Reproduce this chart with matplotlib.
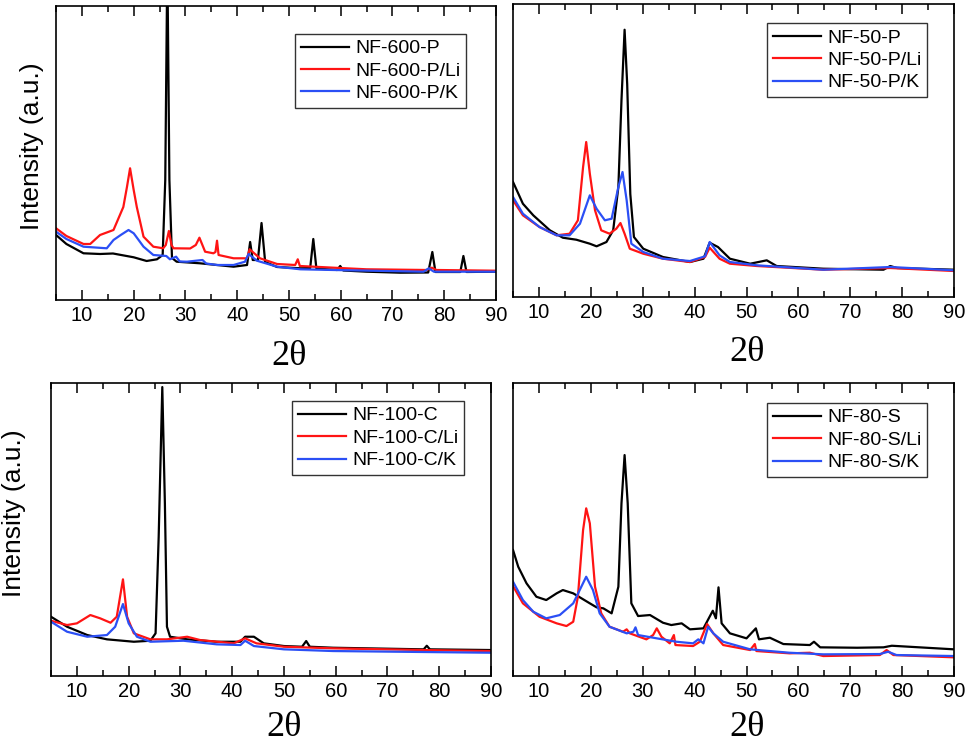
import numpy as np
import matplotlib
matplotlib.use("Agg")
from matplotlib import pyplot as plt
from matplotlib.ticker import MultipleLocator

# --- NF-600 series (intensity in arbitrary units) ---
x600_p = [5, 7, 10.3, 13.5, 16, 20, 22.5, 24.5, 25.6, 26.1, 26.5, 26.9, 27.4, 28.3, 32.8, 39.3, 41.9,
          42.5, 43.0, 44.0, 44.7, 45.4, 47.7, 52.2, 54.1, 54.7, 55.3, 59.3, 59.9, 60.5, 65, 71.5, 76.9,
          77.7, 78.3, 83.1, 83.7, 84.3, 90]
y600_p = [65, 56, 46.7, 46, 46.5, 42.7, 39, 40.7, 45, 120, 340, 120, 42, 38.3, 36.7, 33.3, 35,
          58, 40, 40, 77, 38, 33, 31.7, 32, 61, 31.5, 30, 34, 29.5, 28.3, 27.3, 27.5,
          48, 28, 28, 44, 28, 28.3]
x600_li = [5, 7, 10.3, 11.6, 13.5, 16.1, 18.0, 18.7, 19.3, 20.0, 20.6, 21.9, 23.8, 25.7, 26.2, 26.8, 27.3,
           27.7, 30.9, 32.0, 32.7, 33.8, 35.4, 35.8, 36.1, 36.4, 39.3, 41.9, 42.4, 44.4, 47.7, 51.2,
           51.7, 52.1, 58.6, 65, 76.6, 77.6, 78.5, 90]
y600_li = [71.7, 64, 56, 56, 65, 70, 93, 113, 131.7, 110, 93, 63.3, 53.3, 51.7, 55, 69, 55,
           51.7, 51.5, 55, 62.3, 48.3, 46.7, 48, 59.3, 45, 41.7, 41.7, 50.7, 41.7, 36, 35,
           40.7, 34, 32.3, 30.7, 30, 32.3, 30, 29.3]
x600_k = [5, 7, 10.3, 14.8, 16.1, 17.5, 19.0, 20, 21.9, 23.8, 26.3, 27.0, 28.2, 28.9, 30.3, 33.3, 34.0,
          36.1, 39.3, 41.5, 42.2, 43.8, 47.7, 52.2, 58.6, 76, 77, 78, 90]
y600_k = [68.3, 61, 53.3, 51.7, 60, 65, 70, 66.7, 53.3, 45, 44, 40.7, 43.3, 38.5, 38.3, 40, 36.5,
          35, 35, 38.3, 46, 39.3, 33.3, 30.7, 30, 28.3, 31.7, 28.3, 28.3]

# --- NF-50 series ---
x50_p = [5, 6.9, 8.9, 12.1, 14.6, 17.2, 19.8, 21.1, 23, 24.3, 25.3, 25.9, 26.5, 27, 27.6, 28.3, 30.1,
         33.9, 39.1, 41.7, 42.9, 44.5, 46.8, 50.7, 53.9, 55.8, 64.8, 76.4, 77.7, 79, 90]
y50_p = [115, 93.3, 81.7, 66.7, 59.3, 57.3, 53.3, 50.7, 55, 66.7, 110, 196.7, 267.3, 213, 103, 60, 48.3,
         40, 35, 38.3, 54.3, 50, 38.3, 33.3, 36.7, 31, 28.3, 27.3, 31, 29, 27.3]
x50_li = [5, 6.9, 10.1, 13.4, 15.9, 17.5, 18.5, 19.1, 19.8, 20.8, 22, 23.6, 24.9, 25.7, 26.5, 27.5,
          30.1, 33.9, 39.1, 42, 42.9, 44.8, 46.8, 52, 64.8, 77.7, 90]
y50_li = [96.7, 81.7, 70, 61.7, 63.3, 76.7, 130, 155, 123.3, 86.7, 66.7, 63.3, 68.3, 74, 63.3, 48.3,
          43.3, 38.3, 35, 40, 49.3, 38.3, 33.3, 31, 27.3, 29, 26]
x50_k = [5, 6.9, 10.1, 13.4, 15.9, 17.9, 19.8, 21.1, 22.7, 24, 25.3, 26.1, 26.9, 27.8, 30.1, 33.9,
         39.1, 42, 42.9, 44.8, 46.8, 52, 64.8, 77.7, 90]
y50_k = [100, 83.3, 70, 61.7, 61.7, 73.3, 101.7, 88.3, 76.7, 78.3, 110, 125, 96.7, 53.3, 45, 38.3,
         36, 40.7, 55, 41.7, 35, 31.7, 27.3, 30, 26.7]

# --- NF-100 series ---
x100_c = [5, 8.1, 12, 15.8, 21, 24.2, 25.2, 25.8, 26.5, 27, 27.4, 28, 31.3, 37, 41.6, 42.5, 44.2,
          46.1, 50, 53.5, 54.3, 55, 59.5, 77, 77.6, 78.2, 90]
y100_c = [59.3, 49.3, 41, 36.7, 34.3, 35.3, 42.7, 139, 289, 172.7, 49.3, 39.3, 36.7, 34.3, 34.3, 39.3, 39.3,
          32.7, 30, 29.3, 35, 29.3, 28.3, 26.7, 30.3, 26.7, 26]
x100_li = [5, 8.1, 10, 12.6, 14.5, 16.5, 17.7, 18.9, 19.7, 21, 24.2, 27.4, 31.3, 33.8, 40.3, 42.5,
           44.7, 50, 59.5, 77, 90]
y100_li = [55.3, 51, 52.7, 61, 57.7, 53.3, 59.3, 96.7, 59.3, 42.7, 36.7, 36.7, 39.3, 36, 32.7, 37.7,
           32.7, 29.3, 27.7, 26, 25]
x100_k = [5, 8.1, 12, 15.8, 17.4, 18.9, 20, 21.6, 24.2, 30.6, 37, 41.6, 42.5, 44.2, 50, 59.5, 90]
y100_k = [54.3, 44.3, 39.3, 41, 49.3, 72, 52.7, 39.3, 34.3, 35.3, 31.7, 31, 35.3, 30, 26.7, 25, 23.3]

# --- NF-80 series ---
x80_s = [5, 6, 7.6, 9.5, 11.4, 13.4, 14.6, 16.6, 18.2, 19.8, 21.1, 22.4, 24, 25.3, 25.9, 26.5, 27.1,
         27.8, 29.1, 31.4, 33.9, 35.5, 37.5, 39.1, 41.7, 43.5, 44.1, 44.6, 45.2, 46.8, 50, 51.8, 52.4,
         54.5, 57.1, 62.2, 63, 64.2, 71.3, 76.4, 78, 90]
y80_s = [126, 109.3, 92.7, 79.3, 76, 82.7, 86, 82.7, 77.7, 72.7, 68.7, 67.7, 62.7, 89.3, 172.7, 221, 172.7,
         72.7, 60, 61, 53.3, 51, 52.7, 46.7, 47.7, 65.3, 57.7, 88.7, 52.7, 42.7, 37.7, 47.7, 36.7,
         38.3, 32, 31, 34.3, 28.7, 28.3, 28.7, 30.3, 26.7]
x80_li = [5, 6.9, 10.1, 13.4, 15.3, 16.6, 17.5, 18.5, 19.1, 19.8, 20.8, 22, 23.6, 26.2, 26.9, 27.5,
          30.7, 32, 32.7, 33.6, 35.2, 36, 36.3, 39.7, 41, 42.4, 43.6, 45.5, 50.7, 51.6, 51.9, 58.3,
          62.2, 64.8, 75.7, 77, 78.3, 90]
y80_li = [90, 72.7, 59.3, 52.7, 50, 54.3, 79.3, 146, 167.7, 152.7, 89.3, 62.7, 49.3, 44.3, 46.7, 42.7,
          36.7, 41, 47.7, 39.3, 32.7, 41, 31, 30, 34.3, 52, 42.7, 31, 26, 32, 25, 22.7,
          23.3, 20, 21, 26, 21, 18.7]
x80_k = [5, 6.9, 8.9, 11.4, 14, 16.6, 19.1, 20.4, 21.7, 23.6, 26.9, 28.2, 28.6, 29.1, 32.7, 36.5,
         39.7, 40.7, 41.7, 42.6, 43.6, 45.5, 50.7, 58.3, 64.8, 75.7, 77.3, 78.9, 90]
y80_k = [94.3, 76, 64.3, 57.7, 61, 72.7, 99.3, 86, 62.7, 49.3, 42.7, 44.3, 48.7, 41, 37.7, 34.3,
         32.7, 36.7, 32.7, 49.3, 42.7, 34.3, 26.7, 23.3, 21.7, 22, 24.3, 21, 20]

panels = [
    ([(x600_p, y600_p), (x600_li, y600_li), (x600_k, y600_k)],
     ["NF-600-P", "NF-600-P/Li", "NF-600-P/K"]),
    ([(x50_p, y50_p), (x50_li, y50_li), (x50_k, y50_k)],
     ["NF-50-P", "NF-50-P/Li", "NF-50-P/K"]),
    ([(x100_c, y100_c), (x100_li, y100_li), (x100_k, y100_k)],
     ["NF-100-C", "NF-100-C/Li", "NF-100-C/K"]),
    ([(x80_s, y80_s), (x80_li, y80_li), (x80_k, y80_k)],
     ["NF-80-S", "NF-80-S/Li", "NF-80-S/K"]),
]

colors = ["black", "#ff1414", "#2b4ff5"]

# axes rectangles [left, bottom, width, height] (figure fraction)
rects = [[0.0579, 0.5984, 0.4545, 0.3936],
         [0.5300, 0.6024, 0.4556, 0.3922],
         [0.0527, 0.0950, 0.4545, 0.3922],
         [0.5300, 0.0950, 0.4556, 0.3922]]
legend_anchor = [(0.932, 0.905), (0.939, 0.935), (0.939, 0.939), (0.939, 0.932)]
heights = [294, 293, 293, 293]
xlabel_y = [-0.22, -0.22, -0.205, -0.205]
ylabel_xy = {0: (-0.027, 0.524), 2: (-0.057, 0.556)}

plt.rcParams['font.family'] = ['Liberation Sans', 'DejaVu Sans']

fig = plt.figure(figsize=(9.68, 7.47), dpi=100)

for i in range(4):
    ax = fig.add_axes(rects[i])
    curves, names = panels[i]
    for (xs, ys), c, nm in zip(curves, colors, names):
        ax.plot(xs, ys, color=c, lw=1.6, label=nm)
    ax.set_xlim(5, 90)
    ax.set_ylim(0, heights[i])
    ax.xaxis.set_major_locator(MultipleLocator(10))
    ax.xaxis.set_minor_locator(MultipleLocator(5))
    ax.set_yticks([])
    ax.tick_params(axis='x', which='both', direction='in', top=True, bottom=True,
                   labelsize=14.5, width=1.1, pad=4.5)
    ax.tick_params(axis='x', which='major', length=7)
    ax.tick_params(axis='x', which='minor', length=4)
    for s in ax.spines.values():
        s.set_linewidth(1.2)
    ax.set_xlabel("2θ", family=['Liberation Serif', 'DejaVu Serif'], fontsize=26)
    ax.xaxis.label.set_va('baseline')
    ax.xaxis.set_label_coords(0.53, xlabel_y[i])
    if i in ylabel_xy:
        ax.set_ylabel("Intensity (a.u.)", fontsize=19)
        ax.yaxis.set_label_coords(*ylabel_xy[i])
    leg = ax.legend(loc='upper right', bbox_to_anchor=legend_anchor[i], fontsize=14,
                    frameon=True, fancybox=False, edgecolor='black', handlelength=2.5,
                    handletextpad=0.3, borderpad=0.3, labelspacing=0.25, borderaxespad=0)
    leg.get_frame().set_linewidth(1.0)

plt.savefig("out.png", dpi=100)
